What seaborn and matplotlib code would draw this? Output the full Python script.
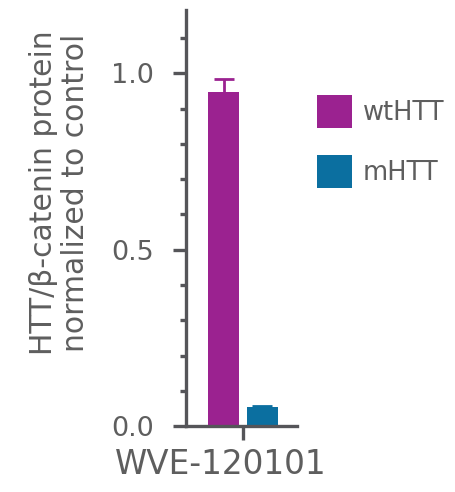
import matplotlib
matplotlib.use("Agg")
import matplotlib.pyplot as plt
import matplotlib.transforms as mtransforms
from matplotlib.ticker import MultipleLocator
from matplotlib.patches import Patch
import seaborn as sns
import pandas as pd

# Data
compounds = ["WVE-120101"]
alleles = ["wtHTT", "mHTT"]
means = [0.946, 0.054]
errors = [0.037, 0.004]
colors = ["#9B2290", "#0B6FA0"]

sns.set_theme(style="white")
plt.rcParams["font.family"] = ["DejaVu Sans"]

text_color = "#5e5e5e"
axis_color = "#555559"

df = pd.DataFrame({
    "compound": compounds * len(alleles),
    "allele": alleles,
    "value": means,
})

fig = plt.figure(figsize=(4.56, 4.92), dpi=100)
ax = fig.add_axes([0.408, 0.134, 0.243, 0.846])

sns.barplot(data=df, x="compound", y="value", hue="allele",
            hue_order=alleles, palette=colors, width=0.8, gap=0.2,
            errorbar=None, legend=False, ax=ax, linewidth=0, saturation=1)

# error bars drawn in the bar colour, centred on each bar
for patch, m, e, c in zip(ax.patches, means, errors, colors):
    cx = patch.get_x() + patch.get_width() / 2
    ax.errorbar(cx, m, yerr=e, color=c, capsize=7.5, capthick=2,
                elinewidth=2, fmt="none", zorder=3)

ax.set_xlim(-0.585, 0.554)
ax.set_ylim(0, 1.18)
ax.yaxis.set_major_locator(MultipleLocator(0.5))
ax.yaxis.set_minor_locator(MultipleLocator(0.1))
ax.set_yticks([0.0, 0.5, 1.0])
ax.set_yticklabels(["0.0", "0.5", "1.0"])

for side in ["top", "right"]:
    ax.spines[side].set_visible(False)
for side in ["left", "bottom"]:
    ax.spines[side].set_color(axis_color)
    ax.spines[side].set_linewidth(2.4)

ax.tick_params(axis="y", which="major", direction="out", length=9.5,
               width=2.4, color=axis_color, labelsize=19.5,
               labelcolor=text_color, pad=13.5, left=True)
ax.tick_params(axis="y", which="minor", direction="out", length=4.5,
               width=2.4, color=axis_color, left=True)
ax.tick_params(axis="x", which="major", direction="out", length=10,
               width=2.4, color=axis_color, labelsize=23.5,
               labelcolor=text_color, pad=6, bottom=True)

ax.set_xlabel("")
ax.set_ylabel("HTT/β-catenin protein\nnormalized to control",
              fontsize=21.5, color=text_color, linespacing=1.1)
ax.yaxis.set_label_coords(-0.87, 0.56)

# shift the compound name slightly left of its tick
offset = mtransforms.ScaledTranslation(-22 / 100, 0, fig.dpi_scale_trans)
for lbl in ax.get_xticklabels():
    lbl.set_transform(lbl.get_transform() + offset)

handles = [Patch(facecolor=c, edgecolor="none", label=a)
           for a, c in zip(alleles, colors)]
fig.legend(handles=handles, loc="upper left", bbox_to_anchor=(0.695, 0.807),
           frameon=False, fontsize=18.5, labelcolor=text_color,
           handlelength=1.36, handleheight=1.6, handletextpad=0.42,
           labelspacing=1.05, borderpad=0, borderaxespad=0)

fig.savefig("out.png", dpi=100)
